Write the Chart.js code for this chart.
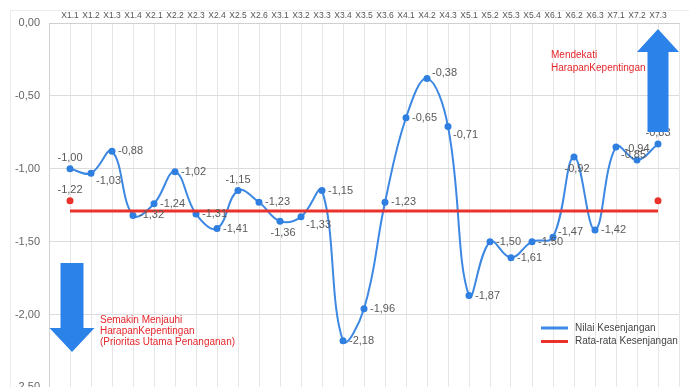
<!DOCTYPE html>
<html>
<head>
<meta charset="utf-8">
<script src="https://cdn.jsdelivr.net/npm/chart.js@4"></script>
<style>
  html, body { margin: 0; padding: 0; background: #fff; overflow: hidden; }
  #wrap { width: 689px; height: 387px; overflow: hidden; }
</style>
</head>
<body>
<div id="wrap"><canvas id="gap-chart" width="689" height="403"></canvas></div>
<script>
const categories = ['X1.1', 'X1.2', 'X1.3', 'X1.4', 'X2.1', 'X2.2', 'X2.3', 'X2.4', 'X2.5', 'X2.6',
  'X3.1', 'X3.2', 'X3.3', 'X3.4', 'X3.5', 'X3.6', 'X4.1', 'X4.2', 'X4.3', 'X5.1', 'X5.2', 'X5.3',
  'X5.4', 'X6.1', 'X6.2', 'X6.3', 'X7.1', 'X7.2', 'X7.3'];
const gapValues = [-1.00, -1.03, -0.88, -1.32, -1.24, -1.02, -1.31, -1.41, -1.15, -1.23,
  -1.36, -1.33, -1.15, -2.18, -1.96, -1.23, -0.65, -0.38, -0.71, -1.87, -1.50, -1.61,
  -1.50, -1.47, -0.92, -1.42, -0.85, -0.94, -0.83];
const averageLine = -1.29;
const averageMark = -1.22;
const yTicks = [0, -0.5, -1, -1.5, -2, -2.5];

// where each value label sits relative to its point
const labelPos = ['a', 'br', 'r', 'r', 'r', 'r', 'r', 'r', 'a', 'r',
  'b', 'br', 'r', 'r', 'r', 'r', 'r', 'ar', 'br', 'r', 'r', 'r',
  'r', 'ar', 'b', 'r', 'br', 'a', 'a'];

const fmt = v => v.toFixed(2).replace('.', ',');

const labels = ['', ...categories, ''];
const blueData = [null, ...gapValues, null];
const redData = [null, ...categories.map(() => averageLine), null];
const redMarks = labels.map((l, i) => (i === 1 || i === categories.length) ? averageMark : null);

const blue = '#3d88e3';
const red = '#e8322b';
const arrowBlue = '#2b82e8';

function drawLabel(ctx, text, x, y, pos) {
  let tx = x, ty = y, align = 'left';
  if (pos === 'r') { tx = x + 6; ty = y; }
  else if (pos === 'br') { tx = x + 5; ty = y + 8; }
  else if (pos === 'ar') { tx = x + 5; ty = y - 5; }
  else if (pos === 'a') { ty = y - 11; align = 'center'; }
  else if (pos === 'b') { tx = x + 3; ty = y + 12; align = 'center'; }
  ctx.textAlign = align;
  ctx.fillText(text, tx, ty);
}

function arrow(ctx, cx, shaftW, headW, yStart, yHead, yTip) {
  ctx.beginPath();
  ctx.moveTo(cx - shaftW / 2, yStart);
  ctx.lineTo(cx + shaftW / 2, yStart);
  ctx.lineTo(cx + shaftW / 2, yHead);
  ctx.lineTo(cx + headW / 2, yHead);
  ctx.lineTo(cx, yTip);
  ctx.lineTo(cx - headW / 2, yHead);
  ctx.lineTo(cx - shaftW / 2, yHead);
  ctx.closePath();
  ctx.fill();
}

const extras = {
  id: 'extras',
  beforeDraw(chart) {
    const ctx = chart.ctx;
    ctx.save();
    ctx.strokeStyle = '#ececec';
    ctx.lineWidth = 1;
    ctx.strokeRect(10.5, 10.5, 700, 400);
    ctx.restore();
  },
  afterDatasetsDraw(chart) {
    const ctx = chart.ctx;
    const metaBlue = chart.getDatasetMeta(1);
    const metaDots = chart.getDatasetMeta(2);
    ctx.save();
    ctx.font = '11px "Liberation Sans", Arial, sans-serif';
    ctx.fillStyle = '#5a5a5a';
    ctx.textBaseline = 'middle';
    gapValues.forEach((v, i) => {
      const p = metaBlue.data[i + 1];
      drawLabel(ctx, fmt(v), p.x, p.y, labelPos[i]);
    });
    const d = metaDots.data[1];
    drawLabel(ctx, fmt(averageMark), d.x, d.y, 'a');

    // arrows
    ctx.fillStyle = arrowBlue;
    arrow(ctx, 72, 23, 45, 263, 328, 352);
    arrow(ctx, 658, 21, 42, 132, 52, 29);

    // notes
    ctx.fillStyle = '#e5262b';
    ctx.font = '10px "Liberation Sans", Arial, sans-serif';
    ctx.textAlign = 'left';
    ctx.fillText('Semakin Menjauhi', 100, 320);
    ctx.fillText('HarapanKepentingan', 100, 331);
    ctx.fillText('(Prioritas Utama Penanganan)', 100, 342);
    ctx.fillText('Mendekati', 551, 55);
    ctx.fillText('HarapanKepentingan', 551, 68);

    // legend
    ctx.font = '10px "Liberation Sans", Arial, sans-serif';
    chart.data.datasets.slice(0, 2).reverse().forEach((ds, k) => {
      const y = 328 + k * 13.5;
      ctx.strokeStyle = ds.borderColor;
      ctx.lineWidth = 3;
      ctx.beginPath();
      ctx.moveTo(541, y);
      ctx.lineTo(568, y);
      ctx.stroke();
      ctx.fillStyle = '#444';
      ctx.fillText(ds.label, 575, y);
    });
    ctx.restore();
  }
};

new Chart(document.getElementById('gap-chart'), {
  type: 'line',
  data: {
    labels: labels,
    datasets: [
      {
        label: 'Rata-rata Kesenjangan',
        data: redData,
        borderColor: red,
        backgroundColor: red,
        borderWidth: 3,
        pointRadius: 0,
        tension: 0,
        order: 0
      },
      {
        label: 'Nilai Kesenjangan',
        data: blueData,
        borderColor: blue,
        backgroundColor: '#2f7fe0',
        borderWidth: 2,
        pointRadius: 3.5,
        pointBorderWidth: 0,
        tension: 0.4,
        order: 1
      },
      {
        label: 'avg marks',
        data: redMarks,
        showLine: false,
        borderColor: red,
        backgroundColor: red,
        pointRadius: 3.5,
        pointBorderWidth: 0,
        order: 2
      }
    ]
  },
  options: {
    responsive: false,
    animation: false,
    layout: { padding: { top: 0, right: 10, bottom: 2, left: 0 } },
    plugins: {
      legend: { display: false },
      tooltip: { enabled: false }
    },
    scales: {
      x: {
        position: 'top',
        grid: { color: '#e6e6e6', drawTicks: false },
        border: { color: '#d0d0d0' },
        ticks: {
          autoSkip: false,
          maxRotation: 0,
          padding: 2,
          color: '#555',
          font: { size: 8.5, family: '"Liberation Sans Narrow", "Liberation Sans", Arial, sans-serif' }
        },
        afterFit(scale) { scale.height = 23; }
      },
      y: {
        min: -2.5,
        max: 0,
        afterBuildTicks(scale) { scale.ticks = yTicks.map(v => ({ value: v })); },
        grid: { color: '#dcdcdc', drawTicks: false },
        border: { color: '#d0d0d0' },
        ticks: {
          padding: 9,
          color: '#666',
          font: { size: 11, family: '"Liberation Sans", Arial, sans-serif' },
          callback: v => fmt(v)
        },
        afterFit(scale) { scale.width = 49; }
      }
    }
  },
  plugins: [extras]
});
</script>
</body>
</html>
